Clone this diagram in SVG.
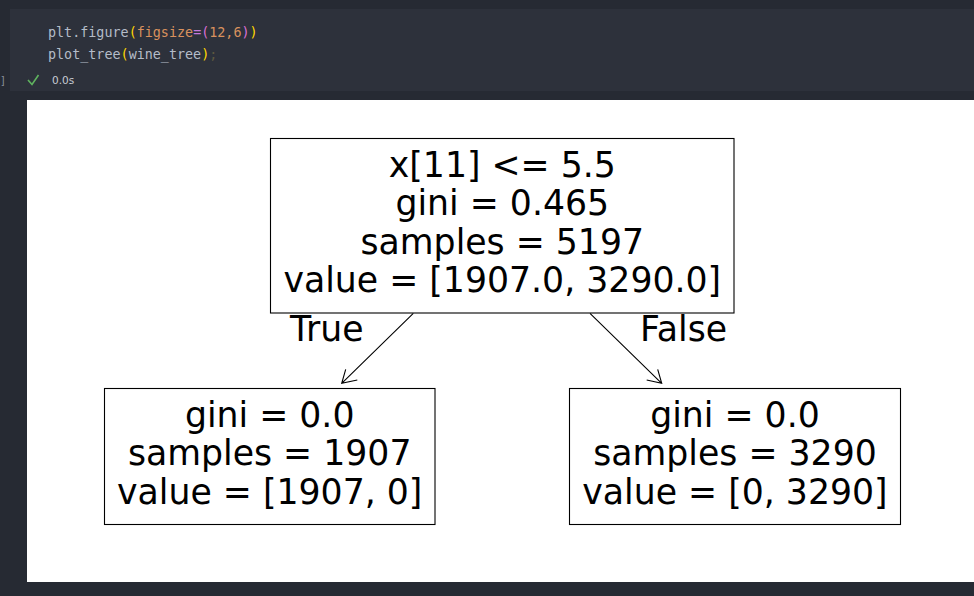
<svg xmlns="http://www.w3.org/2000/svg" width="974" height="596" viewBox="0 0 974 596">
<defs>
<style>
.code{font-family:"DejaVu Sans Mono","Liberation Mono",monospace;font-size:13.4px;fill:#b4bcc8}
.or{fill:#d9915e}
.gold{fill:#ffd700}
.mag{fill:#da70d6}
.pu{fill:#c678dd}
.dim{fill:#5e5840}
.box{fill:#ffffff;stroke:#000000;stroke-width:1.1}
.t{font-family:"DejaVu Sans",sans-serif;font-size:34.7px;fill:#000000;text-anchor:middle}
.lbl{font-family:"DejaVu Sans",sans-serif;font-size:34.7px;fill:#000000}
.edge{fill:none;stroke:#000000;stroke-width:1.1}
</style>
</defs>
<rect x="0" y="0" width="974" height="596" fill="#262a33"/>
<rect x="10" y="9" width="964" height="82" fill="#2d313b"/>
<text class="code" x="48" y="37">plt.figure<tspan class="gold">(</tspan><tspan class="or">figsize</tspan><tspan class="pu">=</tspan><tspan class="mag">(</tspan><tspan class="or">12,6</tspan><tspan class="mag">)</tspan><tspan class="gold">)</tspan></text>
<text class="code" x="48" y="58.5">plot_tree<tspan class="gold">(</tspan>wine_tree<tspan class="gold">)</tspan><tspan class="dim">;</tspan></text>
<text x="0" y="84" font-family="DejaVu Sans Mono,monospace" font-size="10" fill="#8a909a">]</text>
<path d="M28 80 L32 84.5 L38.5 75" fill="none" stroke="#5fb35f" stroke-width="1.6"/>
<text x="52" y="84" font-family="DejaVu Sans,sans-serif" font-size="10.5" fill="#c8ccd4">0.0s</text>
<rect x="27" y="100" width="947" height="482" fill="#ffffff"/>
<g id="connectors">
<path class="edge" d="M413.3 313.3 L341.7 383.3 M345.7 369.3 L341.7 383.3 L357.3 380"/>
<path class="edge" d="M590 313.3 L661.7 383.3 M657.7 369.3 L661.7 383.3 L646.7 380"/>
<text class="lbl" x="290" y="341">True</text>
<text class="lbl" x="640" y="341">False</text>
</g>
<g id="root">
<rect class="box" x="270.5" y="138.5" width="463.5" height="174.5"/>
<text class="t" x="502.3" y="177">x[11] &lt;= 5.5</text>
<text class="t" x="502.3" y="215.3">gini = 0.465</text>
<text class="t" x="502.3" y="253.6">samples = 5197</text>
<text class="t" x="502.3" y="291.9">value = [1907.0, 3290.0]</text>
</g>
<g id="leaf-true">
<rect class="box" x="104.5" y="388.5" width="330.5" height="136"/>
<text class="t" x="269.7" y="427">gini = 0.0</text>
<text class="t" x="269.7" y="465.3">samples = 1907</text>
<text class="t" x="269.7" y="503.6">value = [1907, 0]</text>
</g>
<g id="leaf-false">
<rect class="box" x="569.5" y="388.5" width="331" height="136"/>
<text class="t" x="735" y="427">gini = 0.0</text>
<text class="t" x="735" y="465.3">samples = 3290</text>
<text class="t" x="735" y="503.6">value = [0, 3290]</text>
</g>
</svg>
